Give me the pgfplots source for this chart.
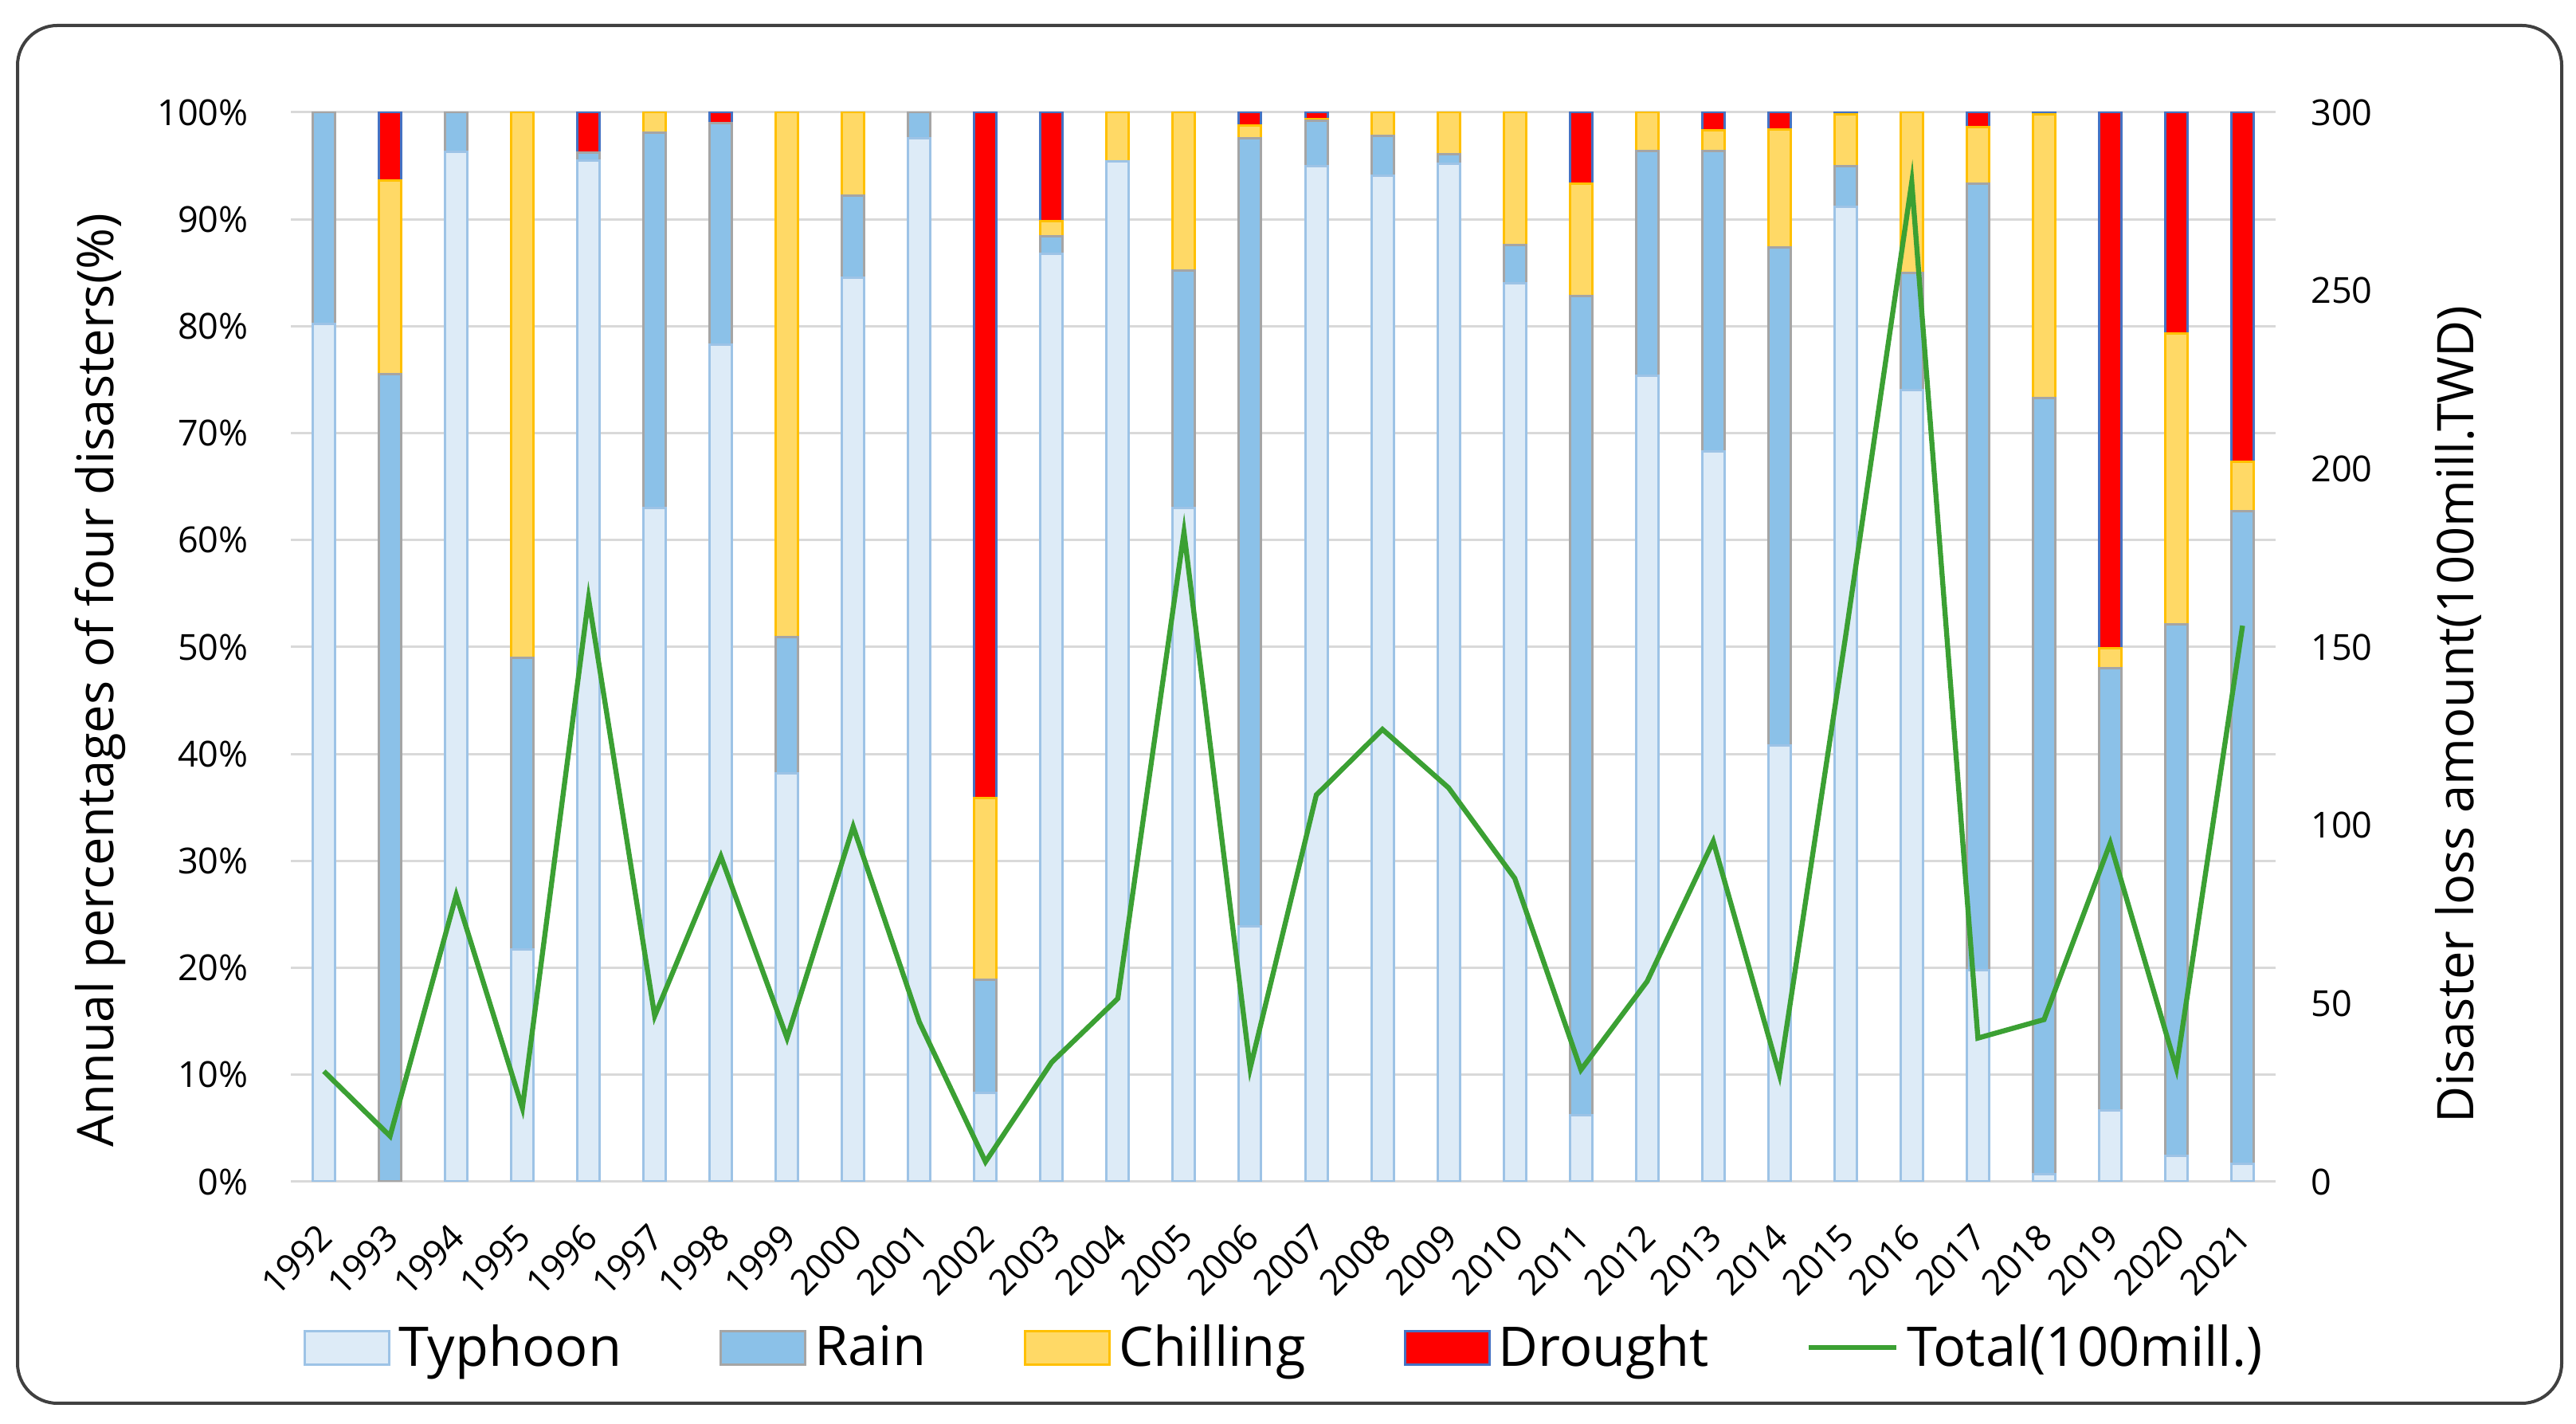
\documentclass[border=0pt]{standalone}
\usepackage{fontspec}
\setmainfont{Open Sans}
\usepackage{pgfplots}
\pgfplotsset{compat=1.18}
\usepackage{pgfplotstable}

\definecolor{tyfill}{HTML}{DDEBF7}
\definecolor{tyedge}{HTML}{9DC3E6}
\definecolor{rafill}{HTML}{8BC1E8}
\definecolor{raedge}{HTML}{A5A5A5}
\definecolor{chfill}{HTML}{FFD966}
\definecolor{chedge}{HTML}{FFC000}
\definecolor{drfill}{HTML}{FF0000}
\definecolor{dredge}{HTML}{4472C4}
\definecolor{totline}{HTML}{3BA033}
\definecolor{gridc}{HTML}{D9D9D9}
\definecolor{framec}{HTML}{404040}

\pgfplotstableread{
year ty ra ch dr tot
1992 80.2 19.8 0 0 31.0
1993 0 75.5 18.1 6.4 12.8
1994 96.3 3.7 0 0 80.4
1995 21.7 27.3 51.0 0 20.7
1996 95.5 0.7 0 3.8 163.6
1997 63.0 35.1 1.9 0 46.5
1998 78.3 20.7 0 1.0 91.3
1999 38.2 12.7 49.1 0 40.3
2000 84.5 7.7 7.8 0 99.6
2001 97.6 2.4 0 0 44.8
2002 8.3 10.6 17.0 64.1 5.6
2003 86.8 1.6 1.4 10.2 33.5
2004 95.4 0 4.6 0 51.4
2005 63.0 22.2 14.8 0 182.2
2006 23.9 73.7 1.2 1.2 31.8
2007 95.0 4.2 0.2 0.6 108.5
2008 94.1 3.7 2.2 0 126.9
2009 95.2 0.9 3.9 0 110.5
2010 84.0 3.6 12.4 0 85.1
2011 6.2 76.6 10.5 6.7 31.4
2012 75.4 21.0 3.6 0 56.2
2013 68.3 28.1 1.9 1.7 95.5
2014 40.8 46.6 11.0 1.6 30.0
2015 91.2 3.8 4.8 0.2 153.0
2016 74.0 11.0 15.0 0 280.4
2017 19.8 73.5 5.3 1.4 40.3
2018 0.7 72.6 26.5 0.2 45.5
2019 6.7 41.3 1.9 50.1 95.0
2020 2.4 49.7 27.2 20.7 31.8
2021 1.7 61.0 4.6 32.7 156.0
}\data

\newcommand{\tickfont}{\fontsize{12.8}{15}\selectfont}
\newcommand{\labfont}{\fontsize{18}{21}\selectfont}
\newcommand{\legfont}{\fontsize{19.5}{23}\selectfont}

\begin{document}
\begin{tikzpicture}
\useasboundingbox (0,0) rectangle (32.33,17.87);
\draw[framec, line width=0.04cm, rounded corners=0.5cm] (0.22,0.26) rectangle (32.15,17.55);

\begin{axis}[
  at={(3.65cm,3.04cm)}, anchor=south west,
  scale only axis, width=24.91cm, height=13.42cm,
  xmin=1991.5, xmax=2021.5, ymin=0, ymax=100,
  ybar stacked, bar width=0.28cm,
  axis line style={draw=none},
  major tick length=0pt,
  ymajorgrids, grid style={gridc, line width=0.03cm},
  xtick={1992,...,2021}, ytick={0,10,...,100},
  /pgf/number format/assume math mode=true,
  yticklabel={\pgfmathprintnumber{\tick}\%},
  yticklabel style={font=\tickfont, xshift=-0.41cm},
  xticklabel style={font=\tickfont, /pgf/number format/1000 sep={}, xshift=0.11cm, yshift=-0.53cm, rotate=45, anchor=east},
  ylabel={Annual percentages of four disasters(\%)},
  every axis y label/.style={at={(axis description cs:-0.0959,0.469)}, rotate=90, anchor=center, font=\labfont},
]
\addplot[fill=tyfill, draw=tyedge, line width=0.03cm] table[x=year,y=ty]{\data};
\addplot[fill=rafill, draw=raedge, line width=0.03cm] table[x=year,y=ra]{\data};
\addplot[fill=chfill, draw=chedge, line width=0.03cm] table[x=year,y=ch]{\data};
\addplot[fill=drfill, draw=dredge, line width=0.03cm] table[x=year,y=dr]{\data};
\end{axis}

\begin{axis}[
  at={(3.65cm,3.04cm)}, anchor=south west,
  scale only axis, width=24.91cm, height=13.42cm,
  xmin=1991.5, xmax=2021.5, ymin=0, ymax=300,
  axis y line*=right, axis x line=none,
  axis line style={draw=none}, major tick length=0pt,
  ytick={0,50,...,300},
  /pgf/number format/assume math mode=true,
  yticklabel style={font=\tickfont, xshift=0.32cm},
  ylabel={Disaster loss amount(100mill.TWD)},
  every axis y label/.style={at={(axis description cs:1.092,0.437)}, rotate=90, anchor=center, font=\labfont},
  legend style={at={(axis description cs:0.5,-0.155)}, anchor=center, draw=none, fill=none,
    legend columns=5, font=\legfont, inner sep=0pt,
    /tikz/every even column/.append style={column sep=1.23cm},
    /tikz/every odd column/.append style={column sep=0.1cm},
    nodes={inner sep=0pt}},
]
\addlegendimage{legend image code/.code={\draw[fill=tyfill, draw=tyedge, line width=0.03cm] (0cm,-0.21cm) rectangle (1.06cm,0.21cm);}}
\addlegendentry{Typhoon}
\addlegendimage{legend image code/.code={\draw[fill=rafill, draw=raedge, line width=0.03cm] (0cm,-0.21cm) rectangle (1.06cm,0.21cm);}}
\addlegendentry{Rain}
\addlegendimage{legend image code/.code={\draw[fill=chfill, draw=chedge, line width=0.03cm] (0cm,-0.21cm) rectangle (1.06cm,0.21cm);}}
\addlegendentry{Chilling}
\addlegendimage{legend image code/.code={\draw[fill=drfill, draw=dredge, line width=0.03cm] (0cm,-0.21cm) rectangle (1.06cm,0.21cm);}}
\addlegendentry{Drought}
\addplot[totline, line width=1.8pt, mark=none,
  legend image code/.code={\draw[totline, line width=0.06cm] (0cm,0cm) -- (1.1cm,0cm);}]
  table[x=year,y=tot]{\data};
\addlegendentry{Total(100mill.)}
\end{axis}
\end{tikzpicture}
\end{document}
